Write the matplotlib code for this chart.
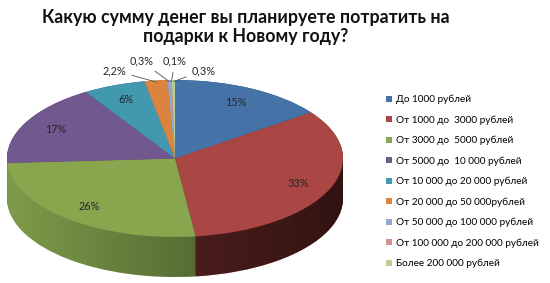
import matplotlib
matplotlib.use('Agg')
import matplotlib.pyplot as plt
import numpy as np
from matplotlib.patches import Polygon

plt.rcParams['font.family'] = ['Lato', 'DejaVu Sans']

title = 'Какую сумму денег вы планируете потратить на\nподарки к Новому году?'
categories = ['До 1000 рублей', 'От 1000 до  3000 рублей', 'От 3000 до  5000 рублей',
              'От 5000 до  10 000 рублей', 'От 10 000 до 20 000 рублей',
              'От 20 000 до 50 000рублей', 'От 50 000 до 100 000 рублей',
              'От 100 000 до 200 000 рублей', 'Более 200 000 рублей']
values = [15, 33, 26, 17, 6, 2.2, 0.3, 0.1, 0.3]
value_labels = ['15%', '33%', '26%', '17%', '6%', '2,2%', '0,3%', '0,1%', '0,3%']
colors = ['#4572A7', '#AA4643', '#89A54E', '#71588F', '#4198AF',
          '#DB843D', '#93A9CF', '#D19392', '#B9CD96']
side_colors = ['#35577f', '#6c2a27', '#7d9c4a', '#564370', '#317385',
               '#a6642e', '#70809d', '#9f706f', '#8c9c72']

fig = plt.figure(figsize=(5.5, 2.83), dpi=100)
ax = fig.add_axes([7/550, 6/283, 336/550, 197/283])
t = 0.51  # thickness in y units

# side wall: stacked pies
for s in np.linspace(t, 0.0, 45):
    ax.pie(values, colors=side_colors, startangle=90, counterclock=False,
           center=(0, -s), radius=1, wedgeprops=dict(linewidth=0, zorder=1))

# horizontal shading of the side wall
th = np.linspace(np.pi, 2*np.pi, 200)
pts = np.column_stack([np.cos(th), -t + np.sin(th)])
pts = np.vstack([pts, [[1, 0], [-1, 0]]])
poly = Polygon(pts, closed=True, transform=ax.transData)
grad = np.zeros((2, 256, 4))
grad[..., 3] = np.linspace(0.0, 0.55, 256)[None, :]
im = ax.imshow(grad, extent=(-1, 1, -1 - t, 0), aspect='auto', zorder=2,
               interpolation='bilinear')
im.set_clip_path(poly)

# top face
wedges, _ = ax.pie(values, colors=colors, startangle=90, counterclock=False,
                   radius=1, wedgeprops=dict(linewidth=0, zorder=3))

ax.set_aspect('auto')
ax.set_xlim(-1, 1)
ax.set_ylim(-1 - t, 1)
ax.axis('off')

lab_col = '#262626'
outer_pos = [(-0.36, 1.12), (-0.2, 1.24), (0.0, 1.24), (0.17, 1.12)]
for i, w in enumerate(wedges):
    mid = np.deg2rad((w.theta1 + w.theta2) / 2)
    if i < 5:
        r = 0.8
        ax.text(r*np.cos(mid), r*np.sin(mid), value_labels[i], ha='center',
                va='center', fontsize=7.8, color=lab_col, zorder=5)
    else:
        px, py = outer_pos[i - 5]
        ax.annotate(value_labels[i], xy=(0.98*np.cos(mid), 0.98*np.sin(mid)),
                    xytext=(px, py), textcoords='data', ha='center', va='center',
                    fontsize=7.8, color=lab_col, zorder=5, annotation_clip=False,
                    arrowprops=dict(arrowstyle='-', color='#505050', lw=0.6,
                                    shrinkA=2, shrinkB=0))

fig.text(246/550, 1 - 27/283, title, ha='center', va='center', fontsize=12.8,
         fontweight='bold', color='#111111', linespacing=1.12)

fig.legend(wedges, categories, loc='upper left',
           bbox_to_anchor=(386/550, 1 - 95/283), frameon=False, fontsize=7.2,
           handlelength=0.55, handleheight=0.55, handletextpad=0.4,
           labelspacing=1.12, borderaxespad=0, borderpad=0)

fig.savefig('out.png', dpi=100)
